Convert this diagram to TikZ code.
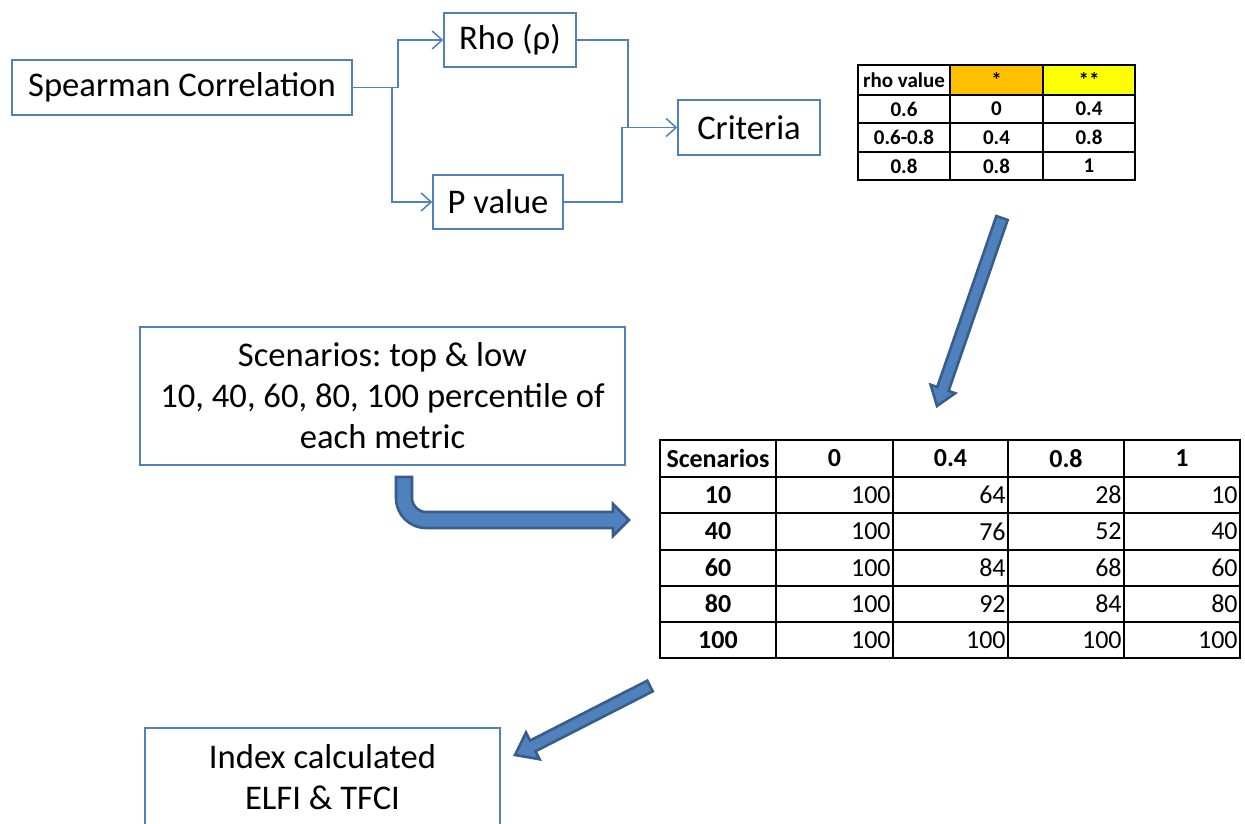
\documentclass[tikz,border=0pt]{standalone}
\usepackage{fontspec}
\setmainfont{Carlito}
\usetikzlibrary{arrows.meta,calc}
\definecolor{boxblue}{RGB}{79,129,189}
\definecolor{darkblue}{RGB}{56,93,138}
\definecolor{hdrorange}{RGB}{255,192,0}
\definecolor{hdryellow}{RGB}{255,255,0}
\frenchspacing
\tikzset{
  box/.style={draw=boxblue, line width=0.75pt, inner sep=0pt, align=center,
              font=\fontsize{17.3}{20.5}\selectfont},
  conn/.style={draw=boxblue, line width=0.75pt},
  carrow/.style={conn, -{Straight Barb[length=5pt,width=9pt]}},
  blockarrow/.style={fill=boxblue, draw=darkblue, line width=1.3pt},
  tgrid/.style={draw=black, line width=0.8pt},
  stcell/.style={inner sep=0pt, font=\fontsize{10.5}{12}\selectfont\bfseries},
  bthead/.style={inner sep=0pt, font=\fontsize{13}{15}\selectfont\bfseries},
  btnum/.style={inner sep=0pt, anchor=east, font=\fontsize{13}{15}\selectfont},
}
\newcommand{\blkarrow}[5]{%
  \coordinate (bhb) at ($(#2)!#5!(#1)$);
  \filldraw[blockarrow] ($(#1)!#3!90:(#2)$) -- ($(bhb)!#3!-90:(#1)$) -- ($(bhb)!#4!-90:(#1)$) -- (#2)
    -- ($(bhb)!#4!90:(#1)$) -- ($(bhb)!#3!90:(#1)$) -- ($(#1)!#3!-90:(#2)$) -- cycle;}
\begin{document}
\begin{tikzpicture}[x=0.5pt,y=-0.5pt]
\useasboundingbox (0,0) rectangle (1245,823);
\clip (0,0) rectangle (1245,823);
\fill[white] (0,0) rectangle (1245,823);

% flow boxes
\node[box, minimum width=170pt, minimum height=27.5pt] (spear) at (182,87.5) {Spearman Correlation};
\node[box, minimum width=66pt, minimum height=27pt] (rho) at (510,40) {Rho (ρ)};
\node[box, minimum width=65pt, minimum height=27pt] (pval) at (498,202) {P value};
\node[box, minimum width=71pt, minimum height=27.5pt] (crit) at (749,127.5) {Criteria};
\node[box, minimum width=242.5pt, minimum height=69pt] (scen) at (382.5,396)
  {Scenarios: top \& low\\10, 40, 60, 80, 100 percentile of\\each metric};
\node[box, minimum width=177.5pt, minimum height=49pt] (index) at (322.5,777)
  {Index calculated\\ELFI \& TFCI};

% connectors
\coordinate (sUp) at (398,87.5);
\coordinate (sDn) at (392,87.5);
\draw[carrow] (spear.east) -- (sUp) |- (rho.west);
\draw[carrow] (sDn) |- (pval.west);
\coordinate (cJr) at (628,127.5);
\coordinate (cJp) at (622,127.5);
\draw[conn] (rho.east) -| (cJr);
\draw[conn] (pval.east) -| (cJp);
\draw[carrow] (cJp) -- (crit.west);

% small table
\fill[hdrorange] (950,65) rectangle (1043,95);
\fill[hdryellow] (1043,65) rectangle (1135,95);
\draw[tgrid] (858,65) rectangle (1135,180);
\foreach \x in {950,1043} \draw[tgrid] (\x,65) -- (\x,180);
\foreach \y in {95,123,152} \draw[tgrid] (858,\y) -- (1135,\y);
\foreach \r/\y/\a/\b/\c in {0/80/rho value/*/**, 1/109/0.6/0/0.4, 2/137.5/0.6-0.8/0.4/0.8, 3/166/0.8/0.8/1}{
  \node[stcell] (st\r a) at (904,\y) {\a};
  \node[stcell] (st\r b) at (996.5,\y) {\b};
  \node[stcell] (st\r c) at (1089,\y) {\c};
}

% big table
\draw[tgrid] (660,440) rectangle (1240,658);
\foreach \x in {776,893,1008,1124} \draw[tgrid] (\x,440) -- (\x,658);
\foreach \y in {477,513,550,586,622} \draw[tgrid] (660,\y) -- (1240,\y);
\node[bthead] (bh0) at (718,458.5) {Scenarios};
\node[bthead] (bh1) at (834.5,458.5) {0};
\node[bthead] (bh2) at (950.5,458.5) {0.4};
\node[bthead] (bh3) at (1066,458.5) {0.8};
\node[bthead] (bh4) at (1182,458.5) {1};
\foreach \r/\y/\s/\a/\b/\c/\d in {1/495/10/100/64/28/10, 2/531.5/40/100/76/52/40,
   3/568/60/100/84/68/60, 4/604/80/100/92/84/80, 5/640/100/100/100/100/100}{
  \node[bthead] (bs\r) at (718,\y) {\s};
  \node[btnum] (bn\r a) at (891,\y) {\a};
  \node[btnum] (bn\r b) at (1006,\y) {\b};
  \node[btnum] (bn\r c) at (1122,\y) {\c};
  \node[btnum] (bn\r d) at (1238,\y) {\d};
}

% block arrows
\filldraw[blockarrow] (396,477) -- (396,498) .. controls (396,514.6) and (409.4,528) .. (426,528)
  -- (613,528) -- (613,536) -- (629,520) -- (613,504) -- (613,512) -- (426,512)
  .. controls (418.3,512) and (412,505.7) .. (412,498) -- (412,477) -- cycle;
\coordinate (a1t) at (1002,218);
\coordinate (a1h) at (937,406);
\blkarrow{a1t}{a1h}{3pt}{6.5pt}{9pt}
\coordinate (a3t) at (650,686);
\coordinate (a3h) at (515,755);
\blkarrow{a3t}{a3h}{3pt}{7.5pt}{10pt}
\end{tikzpicture}
\end{document}
